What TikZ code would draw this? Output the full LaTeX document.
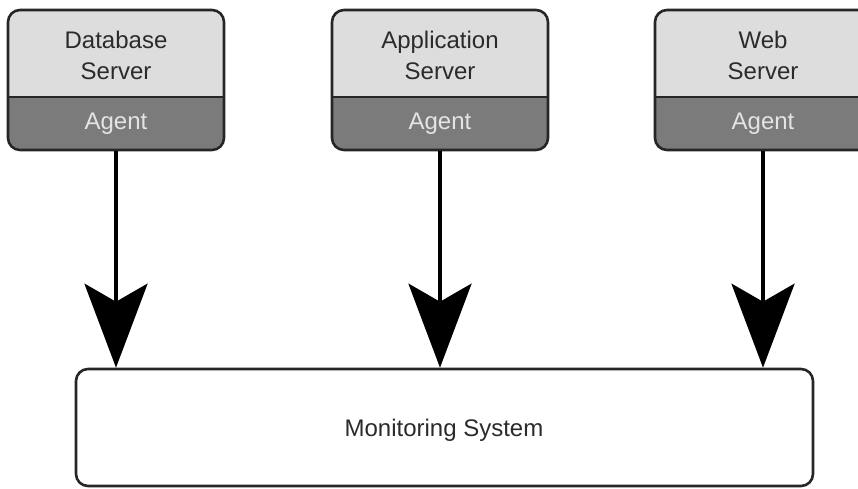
\documentclass[tikz,border=0pt]{standalone}
\usepackage{fontspec}
\setmainfont{Liberation Sans}
\usetikzlibrary{arrows.meta}
\definecolor{topgray}{HTML}{DDDDDD}
\definecolor{agentgray}{HTML}{7B7B7B}
\definecolor{agenttext}{HTML}{E4E4E4}
\definecolor{edge}{HTML}{262626}
\definecolor{ink}{HTML}{2B2B2B}

% one server box: #1 name, #2 centre x, #3 first line, #4 second line
\newcommand\serverbox[4]{%
  \fill[agentgray, rounded corners=12pt] (#2-108,10) rectangle (#2+108,150);
  \fill[topgray] (#2-108,97) [rounded corners=12pt] -- (#2-108,10) -- (#2+108,10)
    [sharp corners] -- (#2+108,97) -- cycle;
  \draw[edge, line width=2.6pt] (#2-108,97) -- (#2+108,97);
  \node[frame, minimum width=216pt, minimum height=140pt] (#1) at (#2,80) {};
  \node[label] (#1name) at (#2,55) {#3\\#4};
  \node[agentlabel] (#1agent) at (#2,124) {Agent};
}

\begin{document}
\begin{tikzpicture}[x=1pt, y=-1pt,
  frame/.style={draw=edge, line width=2.6pt, rounded corners=12pt, inner sep=0pt},
  label/.style={font=\fontsize{24}{31}\selectfont, text=ink, align=center, inner sep=0pt},
  agentlabel/.style={font=\fontsize{24}{31}\selectfont, text=agenttext, inner sep=0pt},
  flow/.style={draw=black, line width=4pt, -{Stealth[length=84pt, width=63pt, inset=18pt]}}]
\useasboundingbox (0,0) rectangle (858,488);

\serverbox{db}{116}{Database}{Server}
\serverbox{app}{440}{Application}{Server}
\serverbox{web}{763}{Web}{Server}

% monitoring system
\node[frame, fill=white, minimum width=737pt, minimum height=117pt] (mon) at (444.5,427.5) {};
\node[label] (montext) at (444,430) {Monitoring System};

% agents report to the monitoring system
\draw[flow] (db.south) -- (db.south |- mon.north);
\draw[flow] (app.south) -- (app.south |- mon.north);
\draw[flow] (web.south) -- (web.south |- mon.north);
\end{tikzpicture}
\end{document}
